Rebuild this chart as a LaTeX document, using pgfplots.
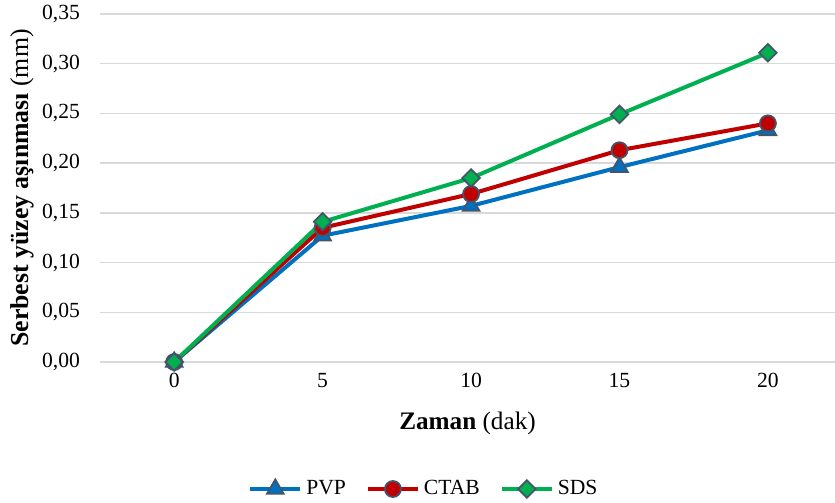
\documentclass[border=0pt]{standalone}
\usepackage{fontspec}
\setmainfont{Liberation Serif}
\usepackage{pgfplots}
\pgfplotsset{compat=1.18}
\definecolor{cPVP}{RGB}{0,112,192}
\definecolor{cCTAB}{RGB}{192,0,0}
\definecolor{cSDS}{RGB}{0,176,80}
\definecolor{mk}{RGB}{68,84,106}
\definecolor{gridc}{RGB}{217,217,217}
\begin{document}
\begin{tikzpicture}
\begin{axis}[
  at={(50pt,70.5pt)}, anchor=south west,
  scale only axis, width=367.5pt, height=174pt,
  xmin=-2.5, xmax=22.26, ymin=0, ymax=0.35,
  xtick={0,5,10,15,20}, ytick={0,0.05,...,0.36},
  axis line style={draw=none},
  major tick length=0pt,
  ymajorgrids, grid style={gridc, line width=0.75pt},
  font=\fontsize{10.8}{12}\selectfont,
  /pgf/number format/.cd, fixed, fixed zerofill, precision=2, use comma, assume math mode=true,
  /pgfplots/.cd,
  xticklabel style={/pgf/number format/precision=0, /pgf/number format/fixed zerofill=false},
  yticklabel style={xshift=-6.5pt},
  xticklabel style={yshift=-2pt},
  xlabel={\fontsize{12.6}{14}\selectfont\textbf{Zaman} (dak)},
  ylabel={\fontsize{12.9}{14}\selectfont\textbf{Serbest yüzey aşınması} (mm)},
  xlabel style={at={(axis description cs:0.5,0)}, anchor=center, yshift=-30.5pt},
  ylabel style={at={(axis description cs:0,0.5)}, anchor=center, yshift=39pt},
  legend style={at={(0.442,-0.365)}, anchor=center, draw=none, legend columns=3,
    font=\fontsize{10.8}{12}\selectfont,
    /tikz/every even column/.append style={column sep=8pt}},
  legend image code/.code={
    \draw[#1, mark=none] (0pt,0pt) -- (25pt,0pt);
    \path[#1] plot coordinates {(12.5pt,0pt)};
  },
  clip=false,
]
\addplot[cPVP, line width=2pt, mark=triangle*, mark size=4.8pt,
  mark options={fill=cPVP, draw=mk, line width=0.9pt}]
  coordinates {(0,0) (5,0.127) (10,0.157) (15,0.196) (20,0.233)};
\addlegendentry{PVP}
\addplot[cCTAB, line width=2pt, mark=*, mark size=4pt,
  mark options={fill=cCTAB, draw=mk, line width=0.9pt}]
  coordinates {(0,0) (5,0.135) (10,0.169) (15,0.213) (20,0.240)};
\addlegendentry{CTAB}
\addplot[cSDS, line width=2pt, mark=square*, mark size=3.1pt,
  mark options={fill=cSDS, draw=mk, line width=0.9pt, rotate=45}]
  coordinates {(0,0) (5,0.141) (10,0.185) (15,0.249) (20,0.311)};
\addlegendentry{SDS}
\end{axis}
\pgfresetboundingbox
\path[use as bounding box] (0,0) rectangle (417.5pt,251.5pt);
\end{tikzpicture}
\end{document}
